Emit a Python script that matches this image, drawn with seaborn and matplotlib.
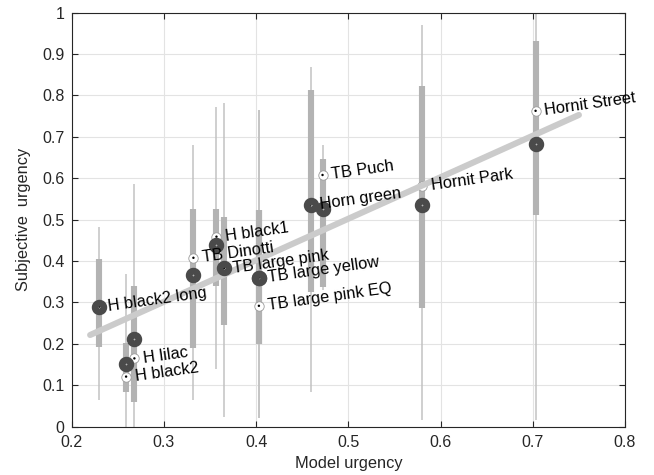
import numpy as np
import pandas as pd
import matplotlib
matplotlib.use("Agg")
import matplotlib.pyplot as plt
import seaborn as sns

# --- data ---
names = ["H black2 long", "H black2", "H lilac", "TB Dinotti", "H black1", "TB large pink",
         "TB large yellow", "TB large pink EQ", "Horn green", "TB Puch", "Hornit Park", "Hornit Street"]
model_urgency = [0.230, 0.259, 0.268, 0.332, 0.357, 0.365, 0.403, 0.403, 0.459, 0.472, 0.580, 0.703]
subj_mean = [0.290, 0.121, 0.165, 0.408, 0.459, 0.383, 0.360, 0.292, 0.536, 0.608, 0.582, 0.763]
subj_median = [0.290, 0.151, 0.212, 0.366, 0.440, 0.383, 0.360, 0.360, 0.536, 0.527, 0.536, 0.682]
q25 = [0.192, 0.083, 0.059, 0.191, 0.341, 0.246, 0.199, 0.199, 0.326, 0.338, 0.286, 0.511]
q75 = [0.404, 0.203, 0.341, 0.526, 0.526, 0.506, 0.523, 0.523, 0.813, 0.646, 0.823, 0.932]
range_lo = [0.065, 0.0, 0.0, 0.064, 0.139, 0.024, 0.020, 0.020, 0.085, 0.330, 0.016, 0.016]
range_hi = [0.483, 0.370, 0.586, 0.680, 0.773, 0.783, 0.765, 0.765, 0.868, 0.680, 0.970, 1.0]

# linear fit end points
fit_x = [0.22, 0.75]
fit_y = [0.2215, 0.753]

df = pd.DataFrame({"name": names, "model": model_urgency, "mean": subj_mean,
                   "median": subj_median, "q25": q25, "q75": q75,
                   "lo": range_lo, "hi": range_hi})
fit = pd.DataFrame({"x": fit_x, "y": fit_y})

sns.set_theme(style="whitegrid")
plt.rcParams["font.family"] = ["Liberation Sans", "DejaVu Sans"]

fig = plt.figure(figsize=(6.54, 4.75), dpi=100)
ax = fig.add_axes([0.1096, 0.1017, 0.8461, 0.8716])

# whiskers and IQR bars
ax.vlines(df["model"], df["lo"], df["hi"], color="#c2c2c2", lw=1.1, zorder=1)
ax.vlines(df["model"], df["q25"], df["q75"], color="#b3b3b3", lw=4.4, zorder=1.5)

# mean markers (white with dot)
sns.scatterplot(data=df, x="model", y="mean", ax=ax, s=46, color="white",
                edgecolor="#9a9a9a", linewidth=0.6, zorder=2, legend=False)
sns.scatterplot(data=df, x="model", y="mean", ax=ax, s=3, color="black",
                edgecolor="none", zorder=2.1, legend=False)

# fit line
sns.lineplot(data=fit, x="x", y="y", ax=ax, color="#cbcbcb", lw=4.4, zorder=3)

# median rings
ax.plot(df["model"], df["median"], ls="none", marker="o", ms=6.3, mew=4.8,
        mfc="none", mec="#4a4a4a", zorder=4)

for _, r in df.iterrows():
    ax.annotate(r["name"], (r["model"], r["mean"]), xytext=(6.5, 0),
                textcoords="offset points", va="center", ha="left",
                rotation=8, rotation_mode="anchor", fontsize=11.8,
                color="black", zorder=5)

ax.set_xlim(0.2, 0.8)
ax.set_ylim(0, 1)
xt = np.round(np.arange(0.2, 0.81, 0.1), 1)
yt = np.round(np.arange(0, 1.01, 0.1), 1)
ax.set_xticks(xt)
ax.set_xticklabels([f"{v:g}" for v in xt])
ax.set_yticks(yt)
ax.set_yticklabels([f"{v:g}" for v in yt])
ax.set_xlabel("Model urgency", fontsize=11.8, labelpad=4, color="#262626")
ax.set_ylabel("Subjective  urgency", fontsize=11.8, labelpad=8, color="#262626")

ax.grid(True, color="#e3e3e3", lw=0.8)
ax.set_axisbelow(True)
ax.set_facecolor("white")
for s in ax.spines.values():
    s.set_visible(True)
    s.set_color("#262626")
    s.set_linewidth(0.8)
ax.tick_params(direction="in", length=4, width=0.8, color="#262626",
               labelsize=11.5, labelcolor="#262626", top=True, right=True,
               bottom=True, left=True)
ax.tick_params(axis="x", pad=6)
ax.tick_params(axis="y", pad=5)

fig.savefig("out.png", dpi=100)
